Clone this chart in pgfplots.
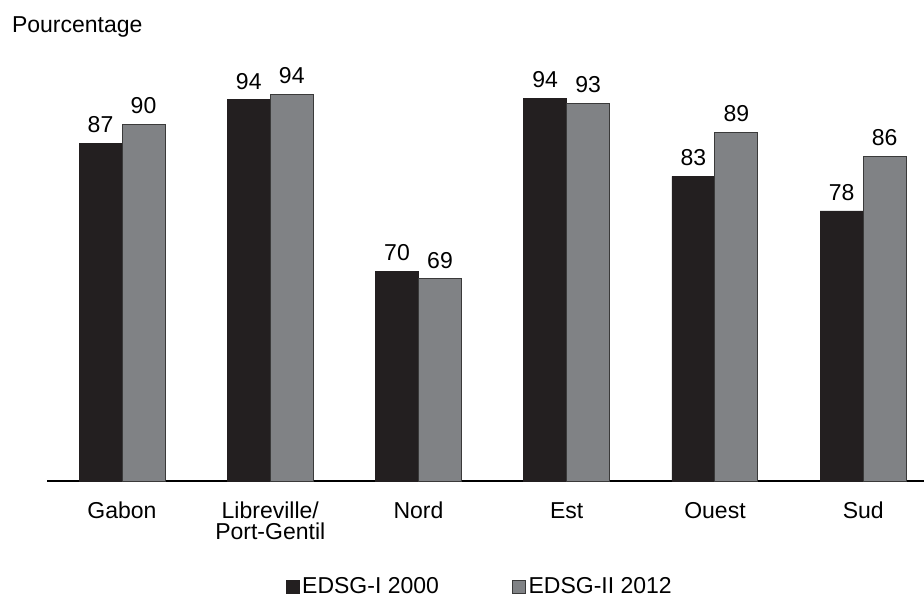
\documentclass[border=0pt]{standalone}
\usepackage{pgfplots}
\pgfplotsset{compat=1.18}
\usepackage{pgfplotstable}
\usepackage{fontspec}
\setmainfont{Liberation Sans}
\definecolor{barblack}{HTML}{231F20}
\definecolor{bargray}{HTML}{808285}
\definecolor{edgegray}{HTML}{3A3A3A}
\pgfplotstableread{
x y lab
0 87.8 87
1 93.9 94
2 70.0 70
3 94.1 94
4 83.2 83
5 78.4 78
}\edsgI
\pgfplotstableread{
x y lab
0 90.4 90
1 94.6 94
2 68.9 69
3 93.4 93
4 89.3 89
5 86.0 86
}\edsgII
\begin{document}
\fontsize{11.5}{10.5}\selectfont
\begin{tikzpicture}
\begin{axis}[
  scale only axis,
  width=438.5pt, height=212.5pt,
  ymin=40.7, ymax=100,
  xmin=-0.506, xmax=5.41,
  axis x line=bottom, axis y line=none,
  x axis line style={-, line width=0.75pt, black},
  ybar=0pt, bar width=21.5pt,
  xtick={0,1,2,3,4,5},
  xticklabels={Gabon,{Libreville/\\Port-Gentil},Nord,\vphantom{b}Est,\vphantom{b}Ouest,Sud},
  xticklabel style={align=center, yshift=-6.5pt, font=\fontsize{11.5}{10.5}\selectfont},
  major tick length=0pt, xtick style={draw=none},
  ytick=\empty,
  nodes near coords,
  point meta=explicit symbolic,
  every node near coord/.append style={font=\fontsize{11.5}{13}\selectfont, yshift=1.25pt},
  legend columns=2,
  legend style={draw=none, fill=none, inner sep=0pt, outer sep=0pt,
    at={(axis description cs:0.2725,-0.2495)}, anchor=west,
    nodes={inner sep=0pt, outer sep=0pt},
    font=\fontsize{11.5}{13}\selectfont,
    /tikz/every odd column/.append style={column sep=1.2pt},
    /tikz/every even column/.append style={column sep=36.5pt}},
  legend image code/.code={\draw[#1] (0pt,-3.3pt) rectangle (6.6pt,3.3pt);},
]
\addplot[fill=barblack, draw=barblack, line width=0.3pt] table[x=x, y=y, meta=lab] {\edsgI};
\addplot[fill=bargray, draw=edgegray, line width=0.5pt] table[x=x, y=y, meta=lab] {\edsgII};
\legend{EDSG-I 2000, EDSG-II 2012}
\coordinate (ptitle) at (axis description cs:-0.0403,1.0548);
\coordinate (bbsw) at (axis description cs:-0.0536,-0.2706);
\coordinate (bbne) at (axis description cs:1.0,1.1318);
\end{axis}
\node[anchor=base west, inner sep=0pt, font=\fontsize{11.5}{13}\selectfont] at (ptitle) {Pourcentage};
\pgfresetboundingbox
\path (bbsw) rectangle (bbne);
\end{tikzpicture}
\end{document}
